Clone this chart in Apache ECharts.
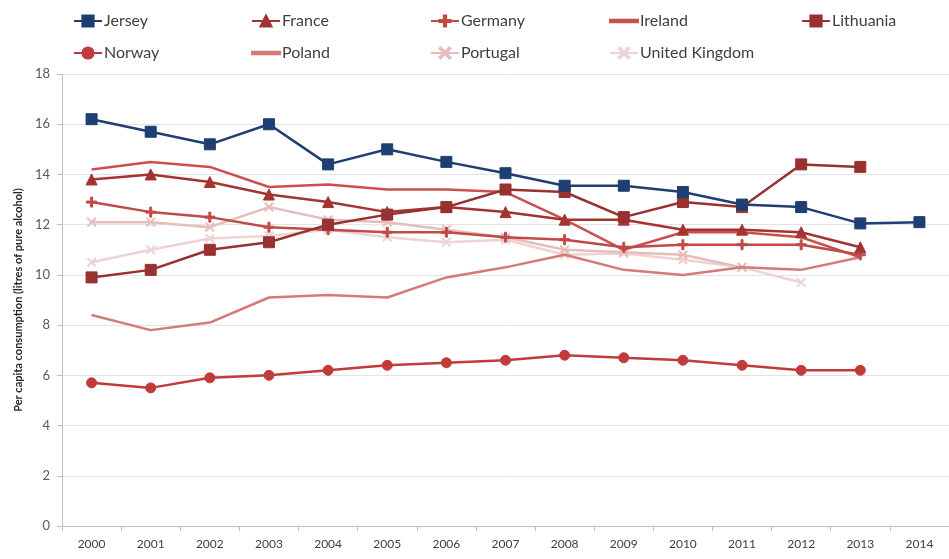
<!DOCTYPE html>
<html>
<head>
<meta charset="utf-8">
<script src="https://cdn.jsdelivr.net/npm/echarts@6/dist/echarts.min.js"></script>
<style>
  html, body { margin: 0; padding: 0; background: #fff; }
  #chart { width: 949px; height: 559px; }
</style>
</head>
<body>
<div id="chart"></div>
<script>
// Per capita alcohol consumption, litres of pure alcohol, 2000-2014
const years = ['2000','2001','2002','2003','2004','2005','2006','2007','2008','2009','2010','2011','2012','2013','2014'];
const yTicks = [0, 2, 4, 6, 8, 10, 12, 14, 16, 18];

const jersey    = [16.2, 15.7, 15.2, 16.0, 14.4, 15.0, 14.5, 14.05, 13.55, 13.55, 13.3, 12.8, 12.7, 12.05, 12.1];
const france    = [13.8, 14.0, 13.7, 13.2, 12.9, 12.5, 12.7, 12.5, 12.2, 12.2, 11.8, 11.8, 11.7, 11.1];
const germany   = [12.9, 12.5, 12.3, 11.9, 11.8, 11.7, 11.7, 11.5, 11.4, 11.1, 11.2, 11.2, 11.2, 10.8];
const ireland   = [14.2, 14.5, 14.3, 13.5, 13.6, 13.4, 13.4, 13.3, 12.2, 11.0, 11.7, 11.7, 11.5, 10.7];
const lithuania = [9.9, 10.2, 11.0, 11.3, 12.0, 12.4, 12.7, 13.4, 13.3, 12.3, 12.9, 12.7, 14.4, 14.3];
const norway    = [5.7, 5.5, 5.9, 6.0, 6.2, 6.4, 6.5, 6.6, 6.8, 6.7, 6.6, 6.4, 6.2, 6.2];
const poland    = [8.4, 7.8, 8.1, 9.1, 9.2, 9.1, 9.9, 10.3, 10.8, 10.2, 10.0, 10.3, 10.2, 10.7];
const portugal  = [12.1, 12.1, 11.9, 12.7, 12.2, 12.1, 11.8, 11.5, 11.0, 10.9, 10.8, 10.3];
const uk        = [10.5, 11.0, 11.45, 11.55, 11.8, 11.5, 11.3, 11.4, 10.8, 10.85, 10.6, 10.3, 9.7];

const PLUS = 'path://M4,0H6V4H10V6H6V10H4V6H0V4H4Z';
const CROSS = 'path://M0,1L1,0L5,4L9,0L10,1L6,5L10,9L9,10L5,6L1,10L0,9L4,5Z';
const BAR = 'path://M0,0H28V2.6H0Z';

function line(name, data, color, symbol, size, z) {
  return {
    name: name,
    type: 'line',
    data: data,
    z: z,
    symbol: symbol || 'none',
    showSymbol: !!symbol,
    symbolSize: size || 0,
    lineStyle: { color: color, width: 2.5 },
    itemStyle: { color: color, borderColor: color, borderWidth: 1 },
    emphasis: { disabled: true },
    animation: false
  };
}

const seriesList = [
  line('Jersey', jersey, '#1F3E72', 'rect', 11, 10),
  line('France', france, '#A33432', 'triangle', 11, 8),
  line('Germany', germany, '#C04A48', PLUS, 10, 6),
  line('Ireland', ireland, '#C9504E', null, 0, 5),
  line('Lithuania', lithuania, '#983130', 'rect', 11, 9),
  line('Norway', norway, '#C23B3B', 'circle', 10, 7),
  line('Poland', poland, '#D37B79', null, 0, 4),
  line('Portugal', portugal, '#E6BDBC', CROSS, 9, 3),
  line('United Kingdom', uk, '#EDD3D3', CROSS, 9, 2)
];

// Legend placement: two rows, five columns
const legendPos = [
  ['Jersey', 68, 8], ['France', 246, 8], ['Germany', 425, 8], ['Ireland', 604, 8], ['Lithuania', 796, 8],
  ['Norway', 68, 40], ['Poland', 246, 40], ['Portugal', 425, 40], ['United Kingdom', 604, 40]
];
const plainLine = { 'Ireland': true, 'Poland': true };
const legends = legendPos.map(function (p) {
  const item = plainLine[p[0]] ? { name: p[0], icon: BAR } : { name: p[0] };
  return {
    data: [item],
    left: p[1],
    top: p[2],
    itemWidth: 28,
    itemHeight: 14,
    itemGap: 4,
    symbolKeepAspect: true,
    selectedMode: false,
    textStyle: { fontFamily: 'Lato', fontSize: 16, color: '#404040', padding: [0, 0, 0, -3] }
  };
});

const chart = echarts.init(document.getElementById('chart'), null, { renderer: 'canvas' });
chart.setOption({
  backgroundColor: '#ffffff',
  animation: false,
  legend: legends,
  grid: { left: 62, right: -6, top: 74, bottom: 33, containLabel: false },
  xAxis: {
    type: 'category',
    data: years,
    boundaryGap: true,
    axisLine: { lineStyle: { color: '#BFBFBF', width: 1 } },
    axisTick: { show: true, length: 5, lineStyle: { color: '#BFBFBF' }, alignWithLabel: false },
    axisLabel: { fontFamily: 'Lato', fontSize: 12, color: '#404040', margin: 12 }
  },
  yAxis: {
    type: 'value',
    min: yTicks[0],
    max: yTicks[yTicks.length - 1],
    interval: 2,
    name: 'Per capita consumption (litres of pure alcohol)',
    nameLocation: 'middle',
    nameGap: 36,
    nameTextStyle: { fontFamily: 'Lato', fontSize: 11, fontWeight: 'bold', color: '#262626' },
    axisLine: { show: true, lineStyle: { color: '#BFBFBF' } },
    axisTick: { show: true, length: 5, inside: false, lineStyle: { color: '#BFBFBF' } },
    axisLabel: { fontFamily: 'Lato', fontSize: 13, color: '#595959', margin: 12 },
    splitLine: { show: true, lineStyle: { color: '#E3E3E3', width: 1 } }
  },
  series: seriesList
});
</script>
</body>
</html>
